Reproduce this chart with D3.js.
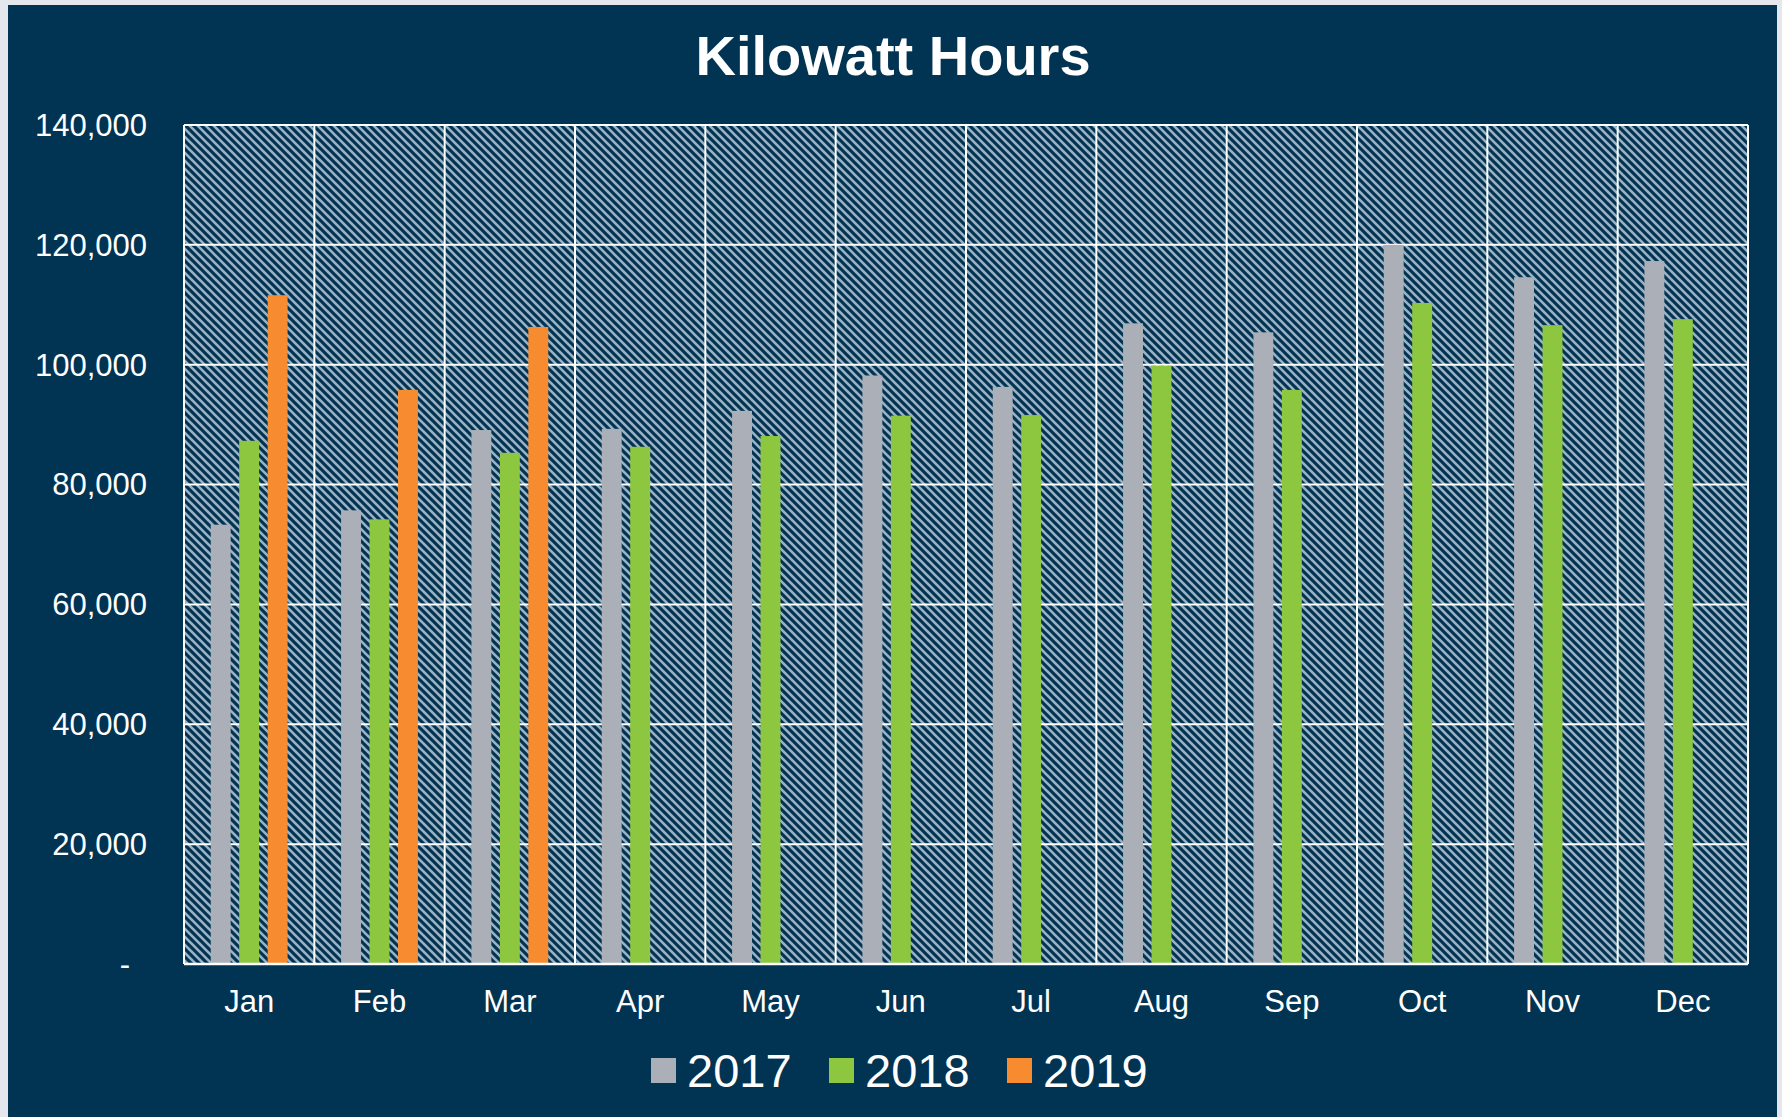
<!DOCTYPE html>
<meta charset="utf-8">
<html>
<head><title>Kilowatt Hours</title>
<script src="https://d3js.org/d3.v7.min.js"></script>
<style>
    body { margin: 0; background: #fff; }
    text { font-family: "Liberation Sans", Arial, sans-serif; fill: #fff; }
    .grid line { stroke: #fff; stroke-width: 2; }
</style>
</head>
<body>
<script>
// months along the x axis
var months = ["Jan", "Feb", "Mar", "Apr", "May", "Jun", "Jul", "Aug", "Sep", "Oct", "Nov", "Dec"];
var years = ["2017", "2018", "2019"];
// kWh per month
var kwh2017 = [73300, 75700, 89100, 89300, 92300, 98200, 96300, 106900, 105400, 120000, 114600, 117300];
var kwh2018 = [87300, 74200, 85300, 86300, 88100, 91500, 91600, 99800, 95800, 110300, 106600, 107600];
var kwh2019 = [111600, 95800, 106300];
var yTicks = [0, 20000, 40000, 60000, 80000, 100000, 120000, 140000];
var colors = {"2017": "#abafb7", "2018": "#8dc63f", "2019": "#f68b2f"};

var W = 1782, H = 1117;
var plot = {left: 184, right: 1748, top: 125, bottom: 964};
var navy = "#013352";

var svg = d3.select("body").append("svg")
    .attr("width", W)
    .attr("height", H);

// light frame + navy background
svg.append("rect")
    .attr("x", 0).attr("y", 0).attr("width", W).attr("height", H)
    .attr("fill", "#e4e8ec");
svg.append("rect")
    .attr("x", 8).attr("y", 5).attr("width", 1769).attr("height", H - 5)
    .attr("fill", navy);

// wide downward diagonal hatch for the plot area
var pat = svg.append("defs").append("pattern")
    .attr("id", "hatch")
    .attr("patternUnits", "userSpaceOnUse")
    .attr("width", 8).attr("height", 8);
pat.append("rect").attr("width", 8).attr("height", 8).attr("fill", navy);
pat.append("path")
    .attr("d", "M-1,-1L9,9M-5,3L1,9M3,-5L9,1")
    .attr("stroke", "#9db1c2")
    .attr("stroke-width", 2.6);

var x0 = d3.scaleBand()
    .domain(months)
    .range([plot.left, plot.right]);
var x1 = d3.scaleBand()
    .domain(years)
    .range([0, x0.bandwidth()])
    .paddingInner(0.3)
    .paddingOuter(0.94);
var y = d3.scaleLinear()
    .domain([0, 140000])
    .range([plot.bottom, plot.top]);

svg.append("rect")
    .attr("x", plot.left).attr("y", plot.top)
    .attr("width", plot.right - plot.left)
    .attr("height", plot.bottom - plot.top)
    .attr("fill", "url(#hatch)");

// gridlines
var grid = svg.append("g").attr("class", "grid");
grid.selectAll("line.h")
    .data(yTicks)
    .enter().append("line")
    .attr("class", "h")
    .attr("x1", plot.left).attr("x2", plot.right)
    .attr("y1", function(d) { return y(d); })
    .attr("y2", function(d) { return y(d); });
grid.selectAll("line.v")
    .data(months.concat(["end"]))
    .enter().append("line")
    .attr("class", "v")
    .attr("x1", function(d, i) { return plot.left + i * x0.step(); })
    .attr("x2", function(d, i) { return plot.left + i * x0.step(); })
    .attr("y1", plot.top).attr("y2", plot.bottom);

// bars
var series = [kwh2017, kwh2018, kwh2019];
var bars = [];
years.forEach(function(yr, s) {
    series[s].forEach(function(v, i) {
        bars.push({month: months[i], year: yr, value: v});
    });
});
svg.append("g").selectAll("rect")
    .data(bars)
    .enter().append("rect")
    .attr("x", function(d) { return x0(d.month) + x1(d.year); })
    .attr("width", x1.bandwidth())
    .attr("y", function(d) { return y(d.value); })
    .attr("height", function(d) { return y(0) - y(d.value); })
    .attr("fill", function(d) { return colors[d.year]; });

// bottom axis line on top of bars
svg.append("line")
    .attr("x1", plot.left).attr("x2", plot.right)
    .attr("y1", plot.bottom).attr("y2", plot.bottom)
    .attr("stroke", "#fff").attr("stroke-width", 2.5);

// y axis labels
var fmt = d3.format(",");
svg.append("g").selectAll("text")
    .data(yTicks)
    .enter().append("text")
    .attr("x", function(d) { return d === 0 ? 130 : 147; })
    .attr("y", function(d) { return y(d); })
    .attr("dy", "0.35em")
    .attr("text-anchor", "end")
    .style("font-size", "31px")
    .text(function(d) { return d === 0 ? "-" : fmt(d); });

// month labels
svg.append("g").selectAll("text")
    .data(months)
    .enter().append("text")
    .attr("x", function(d) { return x0(d) + x0.bandwidth() / 2; })
    .attr("y", 1012)
    .attr("text-anchor", "middle")
    .style("font-size", "31px")
    .text(function(d) { return d; });

// title
svg.append("text")
    .attr("x", 893).attr("y", 75)
    .attr("text-anchor", "middle")
    .style("font-size", "56px")
    .style("font-weight", "bold")
    .text("Kilowatt Hours");

// legend
var legend = svg.append("g").selectAll("g")
    .data(years)
    .enter().append("g")
    .attr("transform", function(d, i) { return "translate(" + (651 + i * 178) + ",0)"; });
legend.append("rect")
    .attr("x", 0).attr("y", 1058)
    .attr("width", 25).attr("height", 25)
    .attr("fill", function(d) { return colors[d]; });
legend.append("text")
    .attr("x", 36).attr("y", 1087)
    .style("font-size", "47px")
    .text(function(d) { return d; });
</script>
</body>
</html>
